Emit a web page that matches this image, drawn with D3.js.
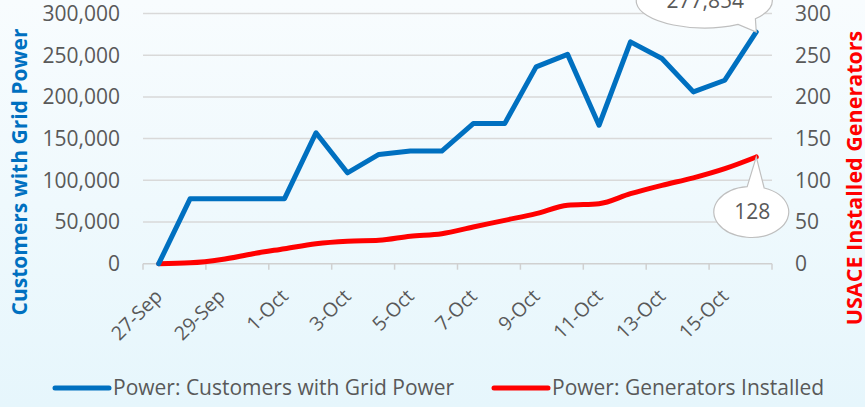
<!DOCTYPE html>
<html lang="en">
<head>
    <meta charset="UTF-8">
    <title>Customers with Grid Power vs Generators Installed</title>
    <script src="https://d3js.org/d3.v7.min.js"></script>
    <style>
        body { margin: 0; }
        svg { display: block; font-family: "Open Sans", sans-serif; }
    </style>
</head>
<body>
    <svg id="chart"></svg>
    <script>
        const dates = ["27-Sep", "28-Sep", "29-Sep", "30-Sep", "1-Oct", "2-Oct", "3-Oct", "4-Oct", "5-Oct", "6-Oct",
                       "7-Oct", "8-Oct", "9-Oct", "10-Oct", "11-Oct", "12-Oct", "13-Oct", "14-Oct", "15-Oct", "16-Oct"];
        const customers = [0, 78000, 78000, 78000, 78000, 157000, 109000, 131000, 135000, 135000,
                           168000, 168000, 236000, 251000, 166000, 266000, 246000, 206000, 220000, 277854];
        const generators = [0, 1, 5, 12, 18, 24, 27, 28, 33, 36, 44, 52, 60, 70, 72, 84, 94, 103, 114, 128];
        const leftTicks = [0, 50000, 100000, 150000, 200000, 250000, 300000];
        const rightTicks = [0, 50, 100, 150, 200, 250, 300];
        const seriesNames = ["Power: Customers with Grid Power", "Power: Generators Installed"];

        const width = 865, height = 407;
        const plot = { left: 143, right: 772, top: 13.5, bottom: 263.7 };
        const blue = "#0070C0", red = "#FF0000", grey = "#595959";

        const svg = d3.select("#chart").attr("width", width).attr("height", height);

        const grad = svg.append("defs").append("linearGradient")
            .attr("id", "bg").attr("x1", 0).attr("y1", 0).attr("x2", 0).attr("y2", 1);
        grad.append("stop").attr("offset", "0%").attr("stop-color", "#f8fcfe");
        grad.append("stop").attr("offset", "100%").attr("stop-color", "#e6f6fc");
        svg.append("rect").attr("width", width).attr("height", height).attr("fill", "url(#bg)");

        const x = d3.scaleBand().domain(dates).range([plot.left, plot.right]);
        const cx = d => x(d) + x.bandwidth() / 2;
        const yL = d3.scaleLinear().domain([0, 300000]).range([plot.bottom, plot.top]);
        const yR = d3.scaleLinear().domain([0, 300]).range([plot.bottom, plot.top]);

        // gridlines
        svg.append("g").selectAll("line").data(leftTicks.slice(1)).join("line")
            .attr("x1", plot.left).attr("x2", plot.right)
            .attr("y1", d => yL(d)).attr("y2", d => yL(d))
            .attr("stroke", "#d9d9d9").attr("stroke-width", 1.5);

        // x axis line and tick marks every two days
        svg.append("line").attr("x1", plot.left).attr("x2", plot.right)
            .attr("y1", plot.bottom).attr("y2", plot.bottom)
            .attr("stroke", "#d0d0d0").attr("stroke-width", 1.5);
        const tickDates = dates.filter((d, i) => i % 2 === 0);
        svg.append("g").selectAll("line").data(tickDates.concat(["end"])).join("line")
            .attr("x1", d => d === "end" ? plot.right : x(d))
            .attr("x2", d => d === "end" ? plot.right : x(d))
            .attr("y1", plot.bottom).attr("y2", plot.bottom + 6)
            .attr("stroke", "#d0d0d0").attr("stroke-width", 1.5);

        svg.append("g").selectAll("text").data(tickDates).join("text")
            .attr("transform", d => `translate(${cx(d)},${plot.bottom + 29}) rotate(-45)`)
            .attr("text-anchor", "end").attr("dy", "0.35em")
            .attr("fill", grey).attr("font-size", 19.5)
            .text(d => d);

        // left axis labels
        svg.append("g").selectAll("text").data(leftTicks).join("text")
            .attr("x", 120).attr("y", d => yL(d)).attr("dy", "0.35em")
            .attr("text-anchor", "end").attr("fill", grey).attr("font-size", 21)
            .text(d3.format(","));

        // right axis labels
        svg.append("g").selectAll("text").data(rightTicks).join("text")
            .attr("x", 795).attr("y", d => yR(d)).attr("dy", "0.35em")
            .attr("text-anchor", "start").attr("fill", grey).attr("font-size", 21)
            .text(d => d);

        // axis titles
        svg.append("text").attr("transform", "translate(20,172) rotate(-90)")
            .attr("text-anchor", "middle").attr("dy", "0.35em")
            .attr("fill", blue).attr("font-size", 21).attr("font-weight", "bold")
            .text("Customers with Grid Power");
        svg.append("text").attr("transform", "translate(854,178) rotate(-90)")
            .attr("text-anchor", "middle").attr("dy", "0.35em")
            .attr("fill", red).attr("font-size", 21.5).attr("font-weight", "bold")
            .text("USACE Installed Generators");

        // series lines
        const lineL = d3.line().x((d, i) => cx(dates[i])).y(d => yL(d));
        const lineR = d3.line().x((d, i) => cx(dates[i])).y(d => yR(d)).curve(d3.curveMonotoneX);

        svg.append("path").datum(generators).attr("d", lineR)
            .attr("fill", "none").attr("stroke", red).attr("stroke-width", 5)
            .attr("stroke-linejoin", "round").attr("stroke-linecap", "round");
        svg.append("path").datum(customers).attr("d", lineL)
            .attr("fill", "none").attr("stroke", blue).attr("stroke-width", 5)
            .attr("stroke-linejoin", "round").attr("stroke-linecap", "round");

        // callout: ellipse with a pointer tail toward the data point (a1 < a2)
        function callout(tipX, tipY, dx, dy, rx, ry, a1, a2, label) {
            const ex = tipX + dx, ey = tipY + dy;
            const p = a => [ex + rx * Math.cos(a), ey + ry * Math.sin(a)];
            const s = p(a1), e = p(a2);
            const path = `M${s[0]},${s[1]} L${tipX},${tipY} L${e[0]},${e[1]} ` +
                `A${rx},${ry} 0 1 1 ${s[0]},${s[1]} Z`;
            const g = svg.append("g");
            g.append("path").attr("d", path)
                .attr("fill", "#ffffff").attr("stroke", "#bfbfbf").attr("stroke-width", 1.2);
            g.append("text").attr("x", ex + 1).attr("y", ey).attr("dy", "0.35em")
                .attr("text-anchor", "middle").attr("fill", grey).attr("font-size", 21)
                .text(label);
        }

        const last = dates.length - 1;
        const lastX = cx(dates[last]);
        callout(lastX, yL(customers[last]), -52, -31, 68, 27, 0.72, 1.05, d3.format(",")(customers[last]));
        callout(lastX, yR(generators[last]), -5, 55, 37.5, 25.5, -1.68, -1.22, generators[last]);

        // legend
        const legend = svg.append("g");
        const items = [
            { name: seriesNames[0], color: blue, x: 55 },
            { name: seriesNames[1], color: red, x: 494 }
        ];
        items.forEach(it => {
            legend.append("line").attr("x1", it.x).attr("x2", it.x + 54)
                .attr("y1", 388).attr("y2", 388)
                .attr("stroke", it.color).attr("stroke-width", 5).attr("stroke-linecap", "round");
            legend.append("text").attr("x", it.x + 58).attr("y", 388).attr("dy", "0.35em")
                .attr("fill", grey).attr("font-size", 21).text(it.name);
        });
    </script>
</body>
</html>
